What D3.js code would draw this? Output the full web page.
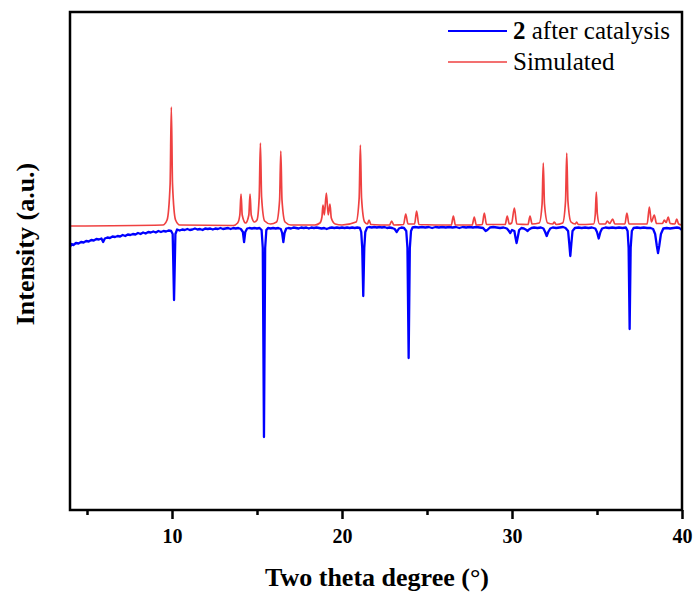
<!DOCTYPE html>
<html>
<head>
<meta charset="utf-8">
<script src="https://cdn.jsdelivr.net/npm/d3@7"></script>
<style>
  body { margin: 0; background: #fff; }
  svg { display: block; font-family: "Liberation Serif", "Times New Roman", serif; }
</style>
</head>
<body>
<svg id="chart" width="696" height="596"></svg>
<script>
// ---- data (2θ in degrees, intensity in arbitrary units, series already offset) ----
const xTicksMajor = [10, 20, 30, 40];
const xTicksMinor = [5, 15, 25, 35];
const seriesNames = ['2 after catalysis', 'Simulated'];

const simulated = [
  [4, 284], [9.46, 285], [9.71, 290], [9.89, 326], [9.96, 403], [10.03, 326], [10.21, 290], [10.46, 285],
  [13.6, 284.5], [13.86, 287], [13.99, 295], [14.06, 316], [14.13, 295], [14.33, 287],
  [14.52, 295], [14.59, 316], [14.66, 295], [14.85, 288], [15.0, 290], [15.13, 313], [15.2, 367],
  [15.27, 313], [15.45, 289], [15.8, 286], [16.15, 288], [16.33, 310], [16.4, 359], [16.47, 310],
  [16.65, 288], [17.0, 285], [18.4, 285], [18.7, 287], [18.82, 293], [18.88, 305], [18.96, 295],
  [19.08, 317], [19.19, 295], [19.29, 306], [19.37, 292], [19.6, 286], [20.0, 285], [20.83, 288],
  [21.01, 312], [21.08, 365], [21.15, 312], [21.33, 288], [21.5, 286], [21.59, 290], [21.7, 285.5],
  [22.8, 285], [22.92, 289], [23.05, 285], [23.62, 285.5], [23.75, 296], [23.88, 286], [24.27, 286],
  [24.39, 299], [24.52, 285.5], [26.43, 285], [26.55, 294], [26.67, 285], [27.66, 285], [27.78, 293],
  [27.9, 285], [28.25, 285.5], [28.37, 297], [28.5, 285.5], [29.6, 285.5], [29.72, 294], [29.84, 286],
  [29.98, 287], [30.14, 302], [30.28, 286], [30.94, 285.5], [31.06, 294], [31.18, 286], [31.6, 287],
  [31.77, 306], [31.84, 347], [31.91, 306], [32.1, 287], [32.4, 286], [32.49, 288], [32.6, 285.5],
  [32.98, 287], [33.15, 309], [33.22, 357], [33.29, 309], [33.47, 288], [33.72, 286], [33.8, 288],
  [33.9, 285.5], [34.8, 286], [34.9, 296], [34.96, 318], [35.02, 296], [35.15, 286], [35.5, 286],
  [35.6, 289], [35.75, 286.5], [35.92, 291], [36.05, 286], [36.64, 286], [36.76, 297], [36.88, 286],
  [37.95, 286], [38.08, 303], [38.2, 288], [38.37, 295], [38.5, 286.5], [38.85, 286.5], [38.96, 290],
  [39.07, 287.5], [39.19, 293], [39.3, 286.5], [39.58, 286], [39.69, 291], [39.8, 286], [40, 285]
];

const afterCatalysis = [
  [4.0, 263], [4.1, 266], [4.2, 265], [4.35, 267], [4.5, 266.5], [4.65, 268], [4.8, 267.5], [4.95, 269],
  [5.1, 268.5], [5.25, 270], [5.4, 269.5], [5.55, 271], [5.7, 270.5], [5.85, 271.5], [5.95, 268],
  [6.05, 271.5], [6.2, 272.5], [6.35, 272], [6.5, 273.5], [6.65, 273], [6.8, 274], [6.95, 273.5],
  [7.1, 275], [7.25, 274], [7.4, 275.5], [7.55, 275], [7.7, 276], [7.85, 275.5], [8.0, 277], [8.15, 276],
  [8.3, 277.5], [8.45, 276.5], [8.6, 278], [8.75, 277.5], [8.9, 278.5], [9.05, 277.5], [9.2, 279],
  [9.35, 278], [9.5, 279], [9.65, 278.5], [9.8, 279.5], [9.95, 279], [10.04, 276], [10.12, 210],
  [10.2, 276], [10.3, 280.5], [10.45, 279.5], [10.6, 280.5], [10.75, 280], [10.9, 281], [11.05, 280],
  [11.2, 280.5], [11.35, 281.5], [11.5, 280.5], [11.65, 281], [11.8, 280], [11.95, 281.5], [12.1, 281],
  [12.25, 281.5], [12.4, 280.5], [12.55, 281.5], [12.7, 281], [12.85, 282], [13.0, 281], [13.15, 281.5],
  [13.3, 282], [13.45, 281], [13.6, 282], [13.75, 281.5], [13.9, 282], [14.05, 281], [14.17, 278],
  [14.24, 268], [14.31, 278], [14.42, 281.5], [14.55, 282], [14.7, 281.5], [14.85, 282], [15.0, 281.5],
  [15.15, 282], [15.27, 280], [15.34, 262], [15.41, 73], [15.48, 262], [15.55, 280], [15.65, 282],
  [15.8, 281.5], [15.95, 282], [16.1, 281.5], [16.25, 282], [16.4, 281], [16.48, 277], [16.55, 268],
  [16.62, 277], [16.72, 281.5], [16.85, 282], [17.0, 281.5], [17.15, 282.5], [17.3, 282], [17.45, 281.5],
  [17.6, 282.5], [17.75, 282], [17.9, 282.5], [18.05, 281.5], [18.2, 282.5], [18.35, 282], [18.5, 282.5],
  [18.65, 282], [18.8, 281.5], [18.95, 282], [19.1, 281], [19.25, 282], [19.4, 282.5], [19.55, 282],
  [19.7, 282.5], [19.85, 282], [20.0, 282.5], [20.15, 282], [20.3, 282.5], [20.45, 282], [20.6, 282.5],
  [20.75, 282], [20.9, 282.5], [21.05, 282], [21.13, 278], [21.19, 262], [21.25, 214], [21.31, 262],
  [21.37, 278], [21.48, 282.5], [21.6, 283], [21.75, 282.5], [21.9, 283], [22.05, 282.5], [22.2, 283],
  [22.35, 282.5], [22.5, 283], [22.65, 282], [22.8, 282.5], [22.95, 282], [23.1, 281], [23.22, 278],
  [23.35, 281.5], [23.5, 282.5], [23.65, 282], [23.78, 279], [23.85, 262], [23.92, 152], [23.99, 262],
  [24.06, 279], [24.15, 282.5], [24.3, 283], [24.5, 282.5], [24.7, 283], [24.9, 282.5], [25.1, 283],
  [25.3, 282], [25.5, 283], [25.7, 282.5], [25.9, 283], [26.1, 282.5], [26.3, 283], [26.5, 282.5],
  [26.7, 283], [26.9, 282], [27.1, 283], [27.3, 282.5], [27.5, 283], [27.7, 282.5], [27.9, 283],
  [28.1, 282.5], [28.3, 282], [28.45, 279], [28.55, 280], [28.7, 282.5], [28.9, 283], [29.1, 282.5],
  [29.3, 282], [29.5, 282.5], [29.7, 281.5], [29.82, 279], [29.9, 277], [30.0, 280], [30.14, 279],
  [30.21, 272], [30.27, 267], [30.33, 272], [30.42, 280], [30.55, 282], [30.7, 281.5], [30.85, 280],
  [30.92, 279], [31.0, 280.5], [31.15, 282], [31.3, 282.5], [31.5, 282], [31.7, 282.5], [31.85, 281.5],
  [31.95, 278], [32.04, 274], [32.13, 278], [32.25, 281.5], [32.4, 282.5], [32.6, 282], [32.8, 282.5],
  [33.0, 283], [33.15, 282], [33.3, 279], [33.37, 266], [33.43, 254], [33.49, 266], [33.56, 279],
  [33.7, 282], [33.9, 282.5], [34.1, 282], [34.3, 282.5], [34.5, 282], [34.7, 282.5], [34.9, 281.5],
  [35.0, 278], [35.1, 271.5], [35.2, 278], [35.3, 281.5], [35.5, 282.5], [35.7, 282], [35.9, 282.5],
  [36.1, 282], [36.3, 282.5], [36.5, 282], [36.7, 282.5], [36.8, 279], [36.86, 262], [36.92, 181],
  [36.98, 262], [37.05, 279], [37.15, 282], [37.35, 282.5], [37.55, 282], [37.75, 282.5], [37.95, 282],
  [38.15, 282], [38.3, 281], [38.42, 276], [38.52, 264], [38.59, 257], [38.66, 264], [38.76, 276],
  [38.9, 281.5], [39.1, 282], [39.3, 281.5], [39.5, 282], [39.7, 282.5], [39.85, 282], [39.95, 280.5],
  [40.0, 281.5]
];

// ---- layout ----
const plot = { left: 70, right: 682, top: 12, bottom: 510 };
const BLUE = '#0000ff';
const RED = '#ef4141';

const svg = d3.select('#chart');

const x = d3.scaleLinear().domain([4, 40]).range([plot.left, plot.right]);
const y = d3.scaleLinear().domain([0, 498]).range([plot.bottom, plot.top]);

const line = d3.line()
    .x(d => x(d[0]))
    .y(d => y(d[1]));

const g = svg.append('g');

g.append('path')
    .datum(afterCatalysis)
    .attr('fill', 'none')
    .attr('stroke', BLUE)
    .attr('stroke-width', 2.3)
    .attr('stroke-linejoin', 'round')
    .attr('d', line);

g.append('path')
    .datum(simulated)
    .attr('fill', 'none')
    .attr('stroke', RED)
    .attr('stroke-width', 1.7)
    .attr('stroke-linejoin', 'round')
    .attr('d', line.curve(d3.curveMonotoneX));

// frame
svg.append('rect')
    .attr('x', plot.left)
    .attr('y', plot.top)
    .attr('width', plot.right - plot.left)
    .attr('height', plot.bottom - plot.top)
    .attr('fill', 'none')
    .attr('stroke', '#000')
    .attr('stroke-width', 2.5);

// bottom axis: minor ticks then major ticks with labels
const minorAxis = svg.append('g')
    .attr('transform', `translate(0,${plot.bottom})`)
    .call(d3.axisBottom(x).tickValues(xTicksMinor).tickSize(5).tickFormat(''));

const majorAxis = svg.append('g')
    .attr('transform', `translate(0,${plot.bottom})`)
    .call(d3.axisBottom(x).tickValues(xTicksMajor).tickSize(9).tickFormat(d3.format('d')));

[minorAxis, majorAxis].forEach(a => {
    a.select('.domain').remove();
    a.selectAll('.tick line').attr('stroke', '#000').attr('stroke-width', 2.5);
});

majorAxis.selectAll('.tick text')
    .attr('y', 33)
    .attr('dy', 0)
    .attr('fill', '#000')
    .attr('font-family', '"Liberation Serif", serif')
    .attr('font-weight', 'bold')
    .attr('font-size', 20);

// axis titles
svg.append('text')
    .attr('x', 377)
    .attr('y', 586)
    .attr('text-anchor', 'middle')
    .attr('font-weight', 'bold')
    .attr('font-size', 26)
    .text('Two theta degree (°)');

svg.append('text')
    .attr('transform', 'translate(34,244) rotate(-90)')
    .attr('text-anchor', 'middle')
    .attr('font-weight', 'bold')
    .attr('font-size', 26)
    .text('Intensity (a.u.)');

// legend
const legend = svg.append('g');
const legendItems = [
    { name: seriesNames[0], color: BLUE, y: 31 },
    { name: seriesNames[1], color: RED, y: 62 }
];
legendItems.forEach((d, i) => {
    legend.append('line')
        .attr('x1', 448).attr('x2', 507)
        .attr('y1', d.y).attr('y2', d.y)
        .attr('stroke', d.color)
        .attr('stroke-width', i === 0 ? 2 : 1.7);
    const t = legend.append('text')
        .attr('x', 513)
        .attr('y', d.y + 8)
        .attr('font-size', 25);
    if (i === 0) {
        const [num, ...rest] = d.name.split(' ');
        t.append('tspan').attr('font-weight', 'bold').text(num);
        t.append('tspan').text(' ' + rest.join(' '));
    } else {
        t.text(d.name);
    }
});
</script>
</body>
</html>
